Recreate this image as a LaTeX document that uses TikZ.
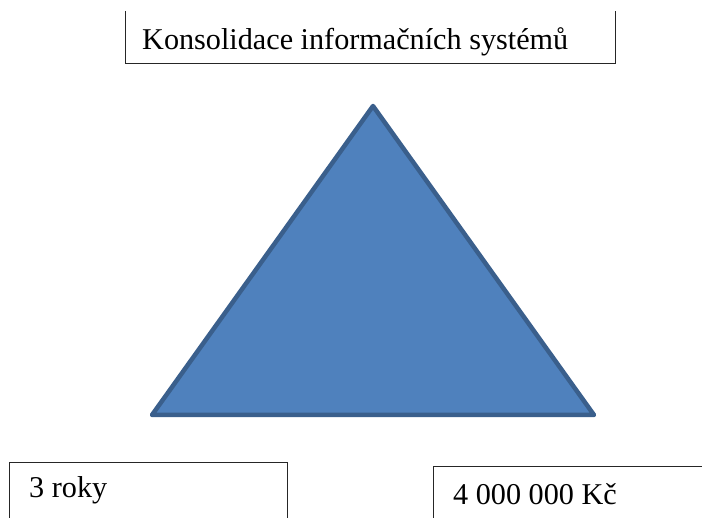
\documentclass[tikz,border=0pt]{standalone}
\usepackage{fontspec}
\setmainfont{Liberation Serif}
\definecolor{trifill}{HTML}{4F81BD}
\definecolor{triedge}{HTML}{3A5F8C}
\begin{document}
\begin{tikzpicture}[x=1pt,y=-1pt,
  frame/.style={draw=black!85,line width=0.9pt},
  label/.style={anchor=base west,inner sep=0pt,font=\fontsize{30.2}{35}\selectfont}]
\useasboundingbox (0,0) rectangle (702,518);
% title box (open at the top)
\draw[frame] (125.5,11) -- (125.5,63.5) -- (615.5,63.5) -- (615.5,11);
\node[label] (title) at (142,50) {Konsolidace informačních systémů};
% triangle
\coordinate (apex) at (373,106);
\coordinate (bl) at (152,415);
\coordinate (br) at (594,415);
\draw[fill=trifill,draw=triedge,line width=4.5pt,line join=round] (apex) -- (br) -- (bl) -- cycle;
% bottom left box
\draw[frame] (9.5,518) -- (9.5,462.5) -- (287.5,462.5) -- (287.5,518);
\node[label] (time) at (29,498) {3 roky};
% bottom right box
\draw[frame] (433.5,518) -- (433.5,466.5) -- (702,466.5);
\node[label] (cost) at (453,505) {4 000 000 Kč};
\end{tikzpicture}
\end{document}
